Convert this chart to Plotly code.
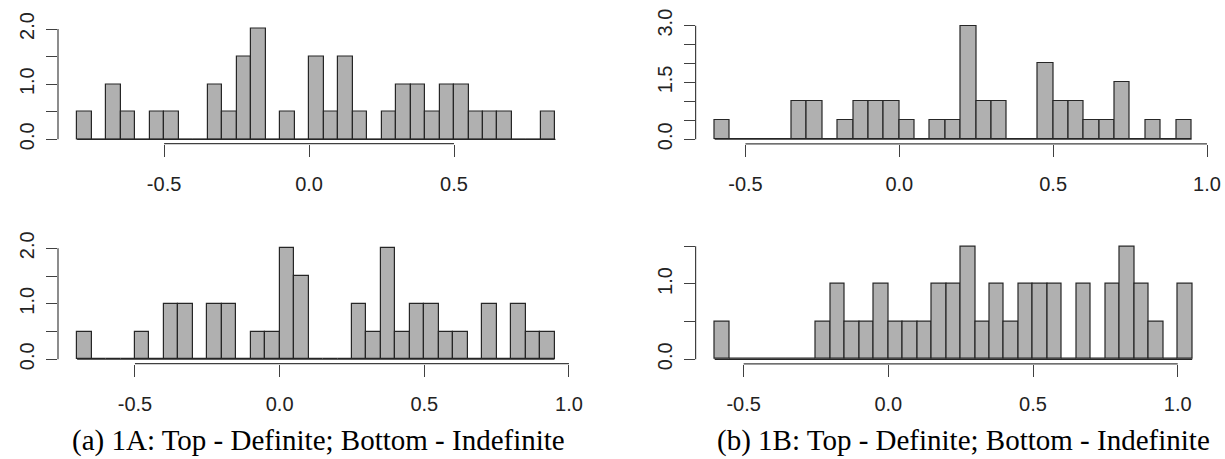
import plotly.graph_objects as go

W, H = 1225, 459
BIN_W = 0.05

# ---- data: density histogram heights, bins of width 0.05 ----
p1a_start = -0.80
p1a_heights = [0.5, 0, 1.0, 0.5, 0, 0.5, 0.5, 0, 0, 1.0, 0.5, 1.5, 2.0, 0, 0.5, 0,
               1.5, 0.5, 1.5, 0.5, 0, 0.5, 1.0, 1.0, 0.5, 1.0, 1.0, 0.5, 0.5, 0.5, 0, 0, 0.5]

p1a_ind_start = -0.70
p1a_ind_heights = [0.5, 0, 0, 0, 0.5, 0, 1.0, 1.0, 0, 1.0, 1.0, 0, 0.5, 0.5,
                   2.0, 1.5, 0, 0, 0, 1.0, 0.5, 2.0, 0.5, 1.0, 1.0, 0.5, 0.5, 0, 1.0, 0, 1.0, 0.5, 0.5]

p1b_start = -0.60
p1b_heights = [0.5, 0, 0, 0, 0, 1.0, 1.0, 0, 0.5, 1.0, 1.0, 1.0,
               0.5, 0, 0.5, 0.5, 3.0, 1.0, 1.0, 0, 0, 2.0, 1.0, 1.0, 0.5, 0.5, 1.5, 0, 0.5, 0, 0.5]

p1b_ind_start = -0.60
p1b_ind_heights = [0.5, 0, 0, 0, 0, 0, 0, 0.5, 1.0, 0.5, 0.5, 1.0,
                   0.5, 0.5, 0.5, 1.0, 1.0, 1.5, 0.5, 1.0, 0.5, 1.0, 1.0, 1.0, 0, 1.0, 0, 1.0, 1.5, 1.0, 0.5, 0, 1.0]

x_ticks_a_top = [-0.5, 0.0, 0.5]
x_ticks_other = [-0.5, 0.0, 0.5, 1.0]
captions = ["(a) 1A: Top - Definite; Bottom - Indefinite",
            "(b) 1B: Top - Definite; Bottom - Indefinite"]

# panels: (start, heights, xrange, yrange, yticks, ylabels, xticks, pixel box [x0,x1,ytop,ybottom])
panels = [
    (p1a_start, p1a_heights, [-0.866, 0.916], [-0.08, 2.08],
     [0, 0.5, 1.0, 1.5, 2.0], ["0.0", "", "1.0", "", "2.0"], x_ticks_a_top, [58, 574.6, 24.6, 143.7]),
    (p1a_ind_start, p1a_ind_heights, [-0.766, 1.016], [-0.08, 2.08],
     [0, 0.5, 1.0, 1.5, 2.0], ["0.0", "", "1.0", "", "2.0"], x_ticks_other, [58, 573.6, 243.9, 363.7]),
    (p1b_start, p1b_heights, [-0.662, 1.012], [-0.12, 3.12],
     [0, 0.5, 1.0, 1.5, 2.0, 2.5, 3.0], ["0.0", "", "", "1.5", "", "", "3.0"], x_ticks_other, [695.6, 1210.7, 21.1, 143.8]),
    (p1b_ind_start, p1b_ind_heights, [-0.666, 1.116], [-0.06, 1.56],
     [0, 0.5, 1.0, 1.5], ["0.0", "", "1.0", ""], x_ticks_other, [695.6, 1211.3, 241.8, 363.8]),
]

fig = go.Figure()
AX_COLOR = "#404040"
TICK_FONT = dict(family="Liberation Sans, Arial, Helvetica", size=20, color="#222222")

layout_axes = {}
shapes = []
for i, (start, heights, xr, yr, yt, yl, xt, box) in enumerate(panels):
    k = "" if i == 0 else str(i + 1)
    xa, ya = "x" + k, "y" + k
    centers = [start + BIN_W * (j + 0.5) for j in range(len(heights))]
    fig.add_trace(go.Bar(
        x=centers, y=heights, width=BIN_W, xaxis=xa, yaxis=ya,
        marker=dict(color="#b0b0b0", line=dict(color="#262626", width=1.2)),
        showlegend=False, hoverinfo="x+y"))
    end = start + BIN_W * len(heights)
    fig.add_trace(go.Scatter(
        x=[start, end], y=[0, 0], mode="lines", xaxis=xa, yaxis=ya,
        line=dict(color="#262626", width=1.2), showlegend=False, hoverinfo="skip"))
    x0, x1, yt_px, yb_px = box
    layout_axes["xaxis" + k] = dict(
        domain=[x0 / W, x1 / W], range=xr, anchor=ya, showgrid=False, zeroline=False,
        showline=False, tickvals=xt, ticktext=[f"{v:.1f}" for v in xt],
        ticks="outside", ticklen=12, tickwidth=1.2, tickcolor=AX_COLOR,
        tickfont=TICK_FONT, ticklabelstandoff=10, automargin=False)
    layout_axes["yaxis" + k] = dict(
        domain=[1 - yb_px / H, 1 - yt_px / H], range=yr, anchor=xa, showgrid=False,
        zeroline=False, showline=False, tickvals=yt, ticktext=yl,
        ticks="outside", ticklen=11, tickwidth=1.2, tickcolor=AX_COLOR,
        tickfont=TICK_FONT, tickangle=-90, ticklabelstandoff=4, automargin=False)
    shapes.append(dict(type="line", xref=xa, yref=ya + " domain", x0=xt[0], x1=xt[-1],
                       y0=0, y1=0, line=dict(color=AX_COLOR, width=1.2)))
    shapes.append(dict(type="line", xref=xa + " domain", yref=ya, x0=0, x1=0,
                       y0=yt[0], y1=yt[-1], line=dict(color=AX_COLOR, width=1.2)))

CAP_FONT = dict(family="Liberation Serif, Times New Roman, serif", size=29, color="black")
annotations = [
    dict(text=captions[0], x=318 / W, y=1 - 440 / H, xref="paper", yref="paper",
         showarrow=False, xanchor="center", yanchor="middle", font=CAP_FONT),
    dict(text=captions[1], x=963 / W, y=1 - 440 / H, xref="paper", yref="paper",
         showarrow=False, xanchor="center", yanchor="middle", font=CAP_FONT),
]

fig.update_layout(
    template="none",
    width=W, height=H, margin=dict(l=0, r=0, t=0, b=0, autoexpand=False),
    paper_bgcolor="white", plot_bgcolor="white", bargap=0,
    shapes=shapes, annotations=annotations, **layout_axes)

fig.write_html("out.html", config={"displayModeBar": False},
               post_script="document.body.style.margin='0';document.body.style.padding='0';")
